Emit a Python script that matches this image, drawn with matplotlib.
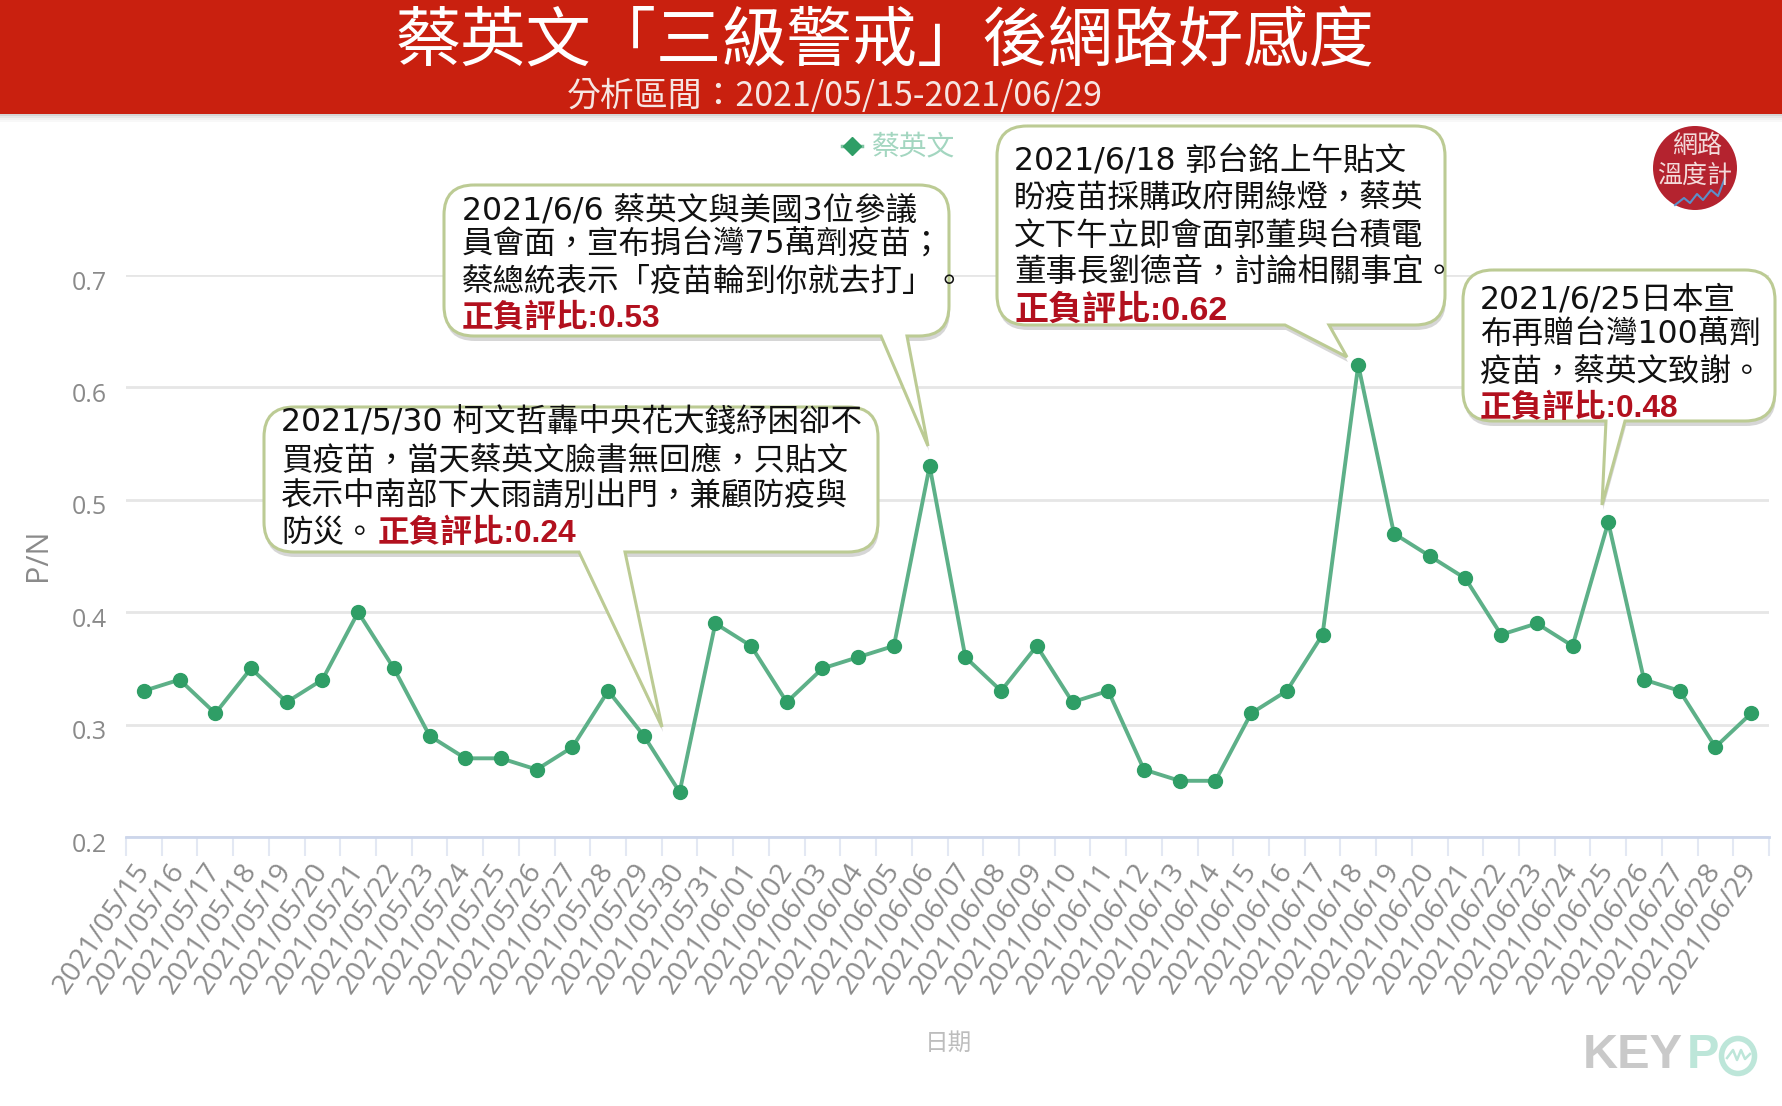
import matplotlib
matplotlib.use("Agg")
import matplotlib.pyplot as plt
from matplotlib.path import Path
from matplotlib.patches import PathPatch, Rectangle, Ellipse
from matplotlib.transforms import ScaledTranslation

# datos
fechas = ["2021/05/15", "2021/05/16", "2021/05/17", "2021/05/18", "2021/05/19", "2021/05/20",
          "2021/05/21", "2021/05/22", "2021/05/23", "2021/05/24", "2021/05/25", "2021/05/26",
          "2021/05/27", "2021/05/28", "2021/05/29", "2021/05/30", "2021/05/31", "2021/06/01",
          "2021/06/02", "2021/06/03", "2021/06/04", "2021/06/05", "2021/06/06", "2021/06/07",
          "2021/06/08", "2021/06/09", "2021/06/10", "2021/06/11", "2021/06/12", "2021/06/13",
          "2021/06/14", "2021/06/15", "2021/06/16", "2021/06/17", "2021/06/18", "2021/06/19",
          "2021/06/20", "2021/06/21", "2021/06/22", "2021/06/23", "2021/06/24", "2021/06/25",
          "2021/06/26", "2021/06/27", "2021/06/28", "2021/06/29"]
pn = [0.33, 0.34, 0.31, 0.35, 0.32, 0.34, 0.40, 0.35, 0.29, 0.27, 0.27, 0.26, 0.28, 0.33, 0.29, 0.24,
      0.39, 0.37, 0.32, 0.35, 0.36, 0.37, 0.53, 0.36, 0.33, 0.37, 0.32, 0.33, 0.26, 0.25, 0.25, 0.31,
      0.33, 0.38, 0.62, 0.47, 0.45, 0.43, 0.38, 0.39, 0.37, 0.48, 0.34, 0.33, 0.28, 0.31]
yticks = [0.2, 0.3, 0.4, 0.5, 0.6, 0.7]

titulo = "蔡英文「三級警戒」後網路好感度"
subtitulo = "分析區間：2021/05/15-2021/06/29"
serie = "蔡英文"

textoA = ["2021/5/30 柯文哲轟中央花大錢紓困卻不", "買疫苗，當天蔡英文臉書無回應，只貼文",
          "表示中南部下大雨請別出門，兼顧防疫與", "防災。"]
textoB = ["2021/6/6 蔡英文與美國3位參議", "員會面，宣布捐台灣75萬劑疫苗；", "蔡總統表示「疫苗輪到你就去打」。"]
textoC = ["2021/6/18 郭台銘上午貼文", "盼疫苗採購政府開綠燈，蔡英", "文下午立即會面郭董與台積電", "董事長劉德音，討論相關事宜。"]
textoD = ["2021/6/25日本宣", "布再贈台灣100萬劑", "疫苗，蔡英文致謝。"]

W, H = 1782, 1106
fuente = ["Noto Sans CJK TC", "DejaVu Sans"]
plt.rcParams["font.family"] = fuente

fig = plt.figure(figsize=(W / 100, H / 100), dpi=100, facecolor="white")

# 1. grafica principal
ax = fig.add_axes([126 / W, 1 - 837 / H, (1769 - 126) / W, (837 - 275) / H])
x = list(range(len(fechas)))
ax.plot(x, pn, color="#5DB088", lw=2.8, marker="o", ms=10, mfc="#2F9E66", mec="#2F9E66", clip_on=False, zorder=3)
ax.set_xlim(-0.5, len(fechas) - 0.5)
ax.set_ylim(0.2, 0.7)
for s in ["top", "right", "left"]:
    ax.spines[s].set_visible(False)
ax.spines["bottom"].set_color("#CCD6EB")
ax.spines["bottom"].set_linewidth(2)
ax.set_yticks(yticks, [str(v) for v in yticks], color="#8A8A8A", fontsize=18, family=["Open Sans"])
ax.tick_params(axis="y", length=0, pad=14)
# las etiquetas del eje y van un poco mas abajo que la linea
for lbl in ax.get_yticklabels():
    lbl.set_transform(lbl.get_transform() + ScaledTranslation(0, -5 / 100, fig.dpi_scale_trans))
ax.grid(axis="y", color="#E6E6E6", lw=2)
ax.set_axisbelow(True)
ax.set_xticks(x, fechas, rotation=56, ha="right", va="center", rotation_mode="anchor",
              color="#8C8C8C", fontsize=20.5, family=["Open Sans"])
ax.set_xticks([i - 0.5 for i in range(len(fechas) + 1)], minor=True)
ax.tick_params(axis="x", which="major", length=0, pad=21)
ax.tick_params(axis="x", which="minor", length=14, width=1.5, color="#E3E8F3")

# 2. capa en pixeles para cabecera y globos
ov = fig.add_axes([0, 0, 1, 1], facecolor="none")
ov.set_xlim(0, W)
ov.set_ylim(H, 0)
ov.axis("off")

# cabecera
for i, a in enumerate([0.30, 0.18, 0.10, 0.05]):
    ov.add_patch(Rectangle((0, 114 + i * 2), W, 2, fc="#777777", alpha=a, lw=0))
ov.add_patch(Rectangle((0, 0), W, 114, fc="#C9200F", lw=0))
ov.text(885, 42, titulo, color="white", fontsize=47, ha="center", va="center")
ov.text(835, 96, subtitulo, color="#F6E6E3", fontsize=24.4, ha="center", va="center")


def globo(x0, y0, x1, y1, tb0, tb1, punta, r=30):
    # rectangulo redondeado con la cola abajo
    v = [(x0 + r, y0), (x1 - r, y0), (x1, y0), (x1, y0 + r), (x1, y1 - r), (x1, y1), (x1 - r, y1),
         (tb1, y1), punta, (tb0, y1), (x0 + r, y1), (x0, y1), (x0, y1 - r), (x0, y0 + r), (x0, y0), (x0 + r, y0)]
    c = [Path.MOVETO, Path.LINETO, Path.CURVE3, Path.CURVE3, Path.LINETO, Path.CURVE3, Path.CURVE3,
         Path.LINETO, Path.LINETO, Path.LINETO, Path.LINETO, Path.CURVE3, Path.CURVE3, Path.LINETO,
         Path.CURVE3, Path.CURVE3]
    sombra = Path([(a + 1, b + 5) for a, b in v], c)
    ov.add_patch(PathPatch(sombra, fc="#8A8A8A", ec="none", alpha=0.35))
    ov.add_patch(PathPatch(Path(v, c), fc="white", ec="#BCCB94", lw=2.2))


def lineas(tx, ys, txt):
    # DejaVu primero: sus cifras son tan anchas como en el original
    for y, t in zip(ys, txt):
        ov.text(tx, y + 2, t, color="#111111", fontsize=22.7, ha="left", va="center",
                family=["DejaVu Sans", "Noto Sans CJK TC"])


def rojo(tx, y, t, size=22.8):
    ov.text(tx, y + 2, t, color="#B2101E", fontsize=size, fontweight="bold", ha="left", va="center",
            family=["Liberation Sans", "Noto Sans CJK TC"])


globo(264, 407, 878, 552, 579, 625, (662, 727))
lineas(281, [421, 459, 495, 532], textoA)
rojo(378, 532, "正負評比:0.24")

globo(444, 185, 949, 336, 881, 907, (928, 446))
lineas(462, [209, 243, 280], textoB)
rojo(462, 317, "正負評比:0.53")

globo(997, 126, 1445, 325, 1285, 1329, (1347, 357))
lineas(1014, [160, 196, 234, 270], textoC)
rojo(1014, 309, "正負評比:0.62", size=24.5)

globo(1463, 270, 1775, 421, 1606, 1625, (1602, 505))
lineas(1480, [298, 332, 370], textoD)
rojo(1480, 407, "正負評比:0.48")

# leyenda
ov.plot([842, 862], [146, 146], color="#7CC3A0", lw=2.5)
ov.plot([852], [146], marker="D", ms=9, color="#2F9E66")
ov.text(872, 146, serie, color="#A3D6C0", fontsize=20, ha="left", va="center")

# ejes: titulos
ov.text(38, 555, "P/N", color="#8A8A8A", fontsize=22, rotation=90, ha="center", va="center", family=["Open Sans"])
ov.text(948, 1043, "日期", color="#BDBDBD", fontsize=17, ha="center", va="center")

# logo de arriba
ov.add_patch(Ellipse((1695, 168), 84, 84, fc="#B4232F", ec="none"))
ov.text(1697, 146, "網路", color="#F3DADA", fontsize=18, ha="center", va="center")
ov.text(1695, 176, "溫度計", color="#F3DADA", fontsize=18, ha="center", va="center")
ov.plot([1675, 1684, 1690, 1697, 1703, 1711, 1718, 1725], [205, 198, 203, 194, 200, 190, 196, 178], color="#5C8FC8", lw=1.5)

# logo KEYPO
ov.text(1583, 1056, "KEY", color="#C9C9C9", fontsize=35, fontweight="bold", ha="left", va="center", family=["Liberation Sans"])
ov.text(1687, 1056, "P", color="#BDE6D9", fontsize=35, fontweight="bold", ha="left", va="center", family=["Liberation Sans"])
ov.add_patch(Ellipse((1738, 1056), 33, 35, fc="none", ec="#BDE6D9", lw=4))
ov.plot([1727, 1733, 1737, 1741, 1745, 1750], [1058, 1050, 1060, 1050, 1059, 1054], color="#BDE6D9", lw=1.8)

plt.savefig("out.png", dpi=100, facecolor="white")
